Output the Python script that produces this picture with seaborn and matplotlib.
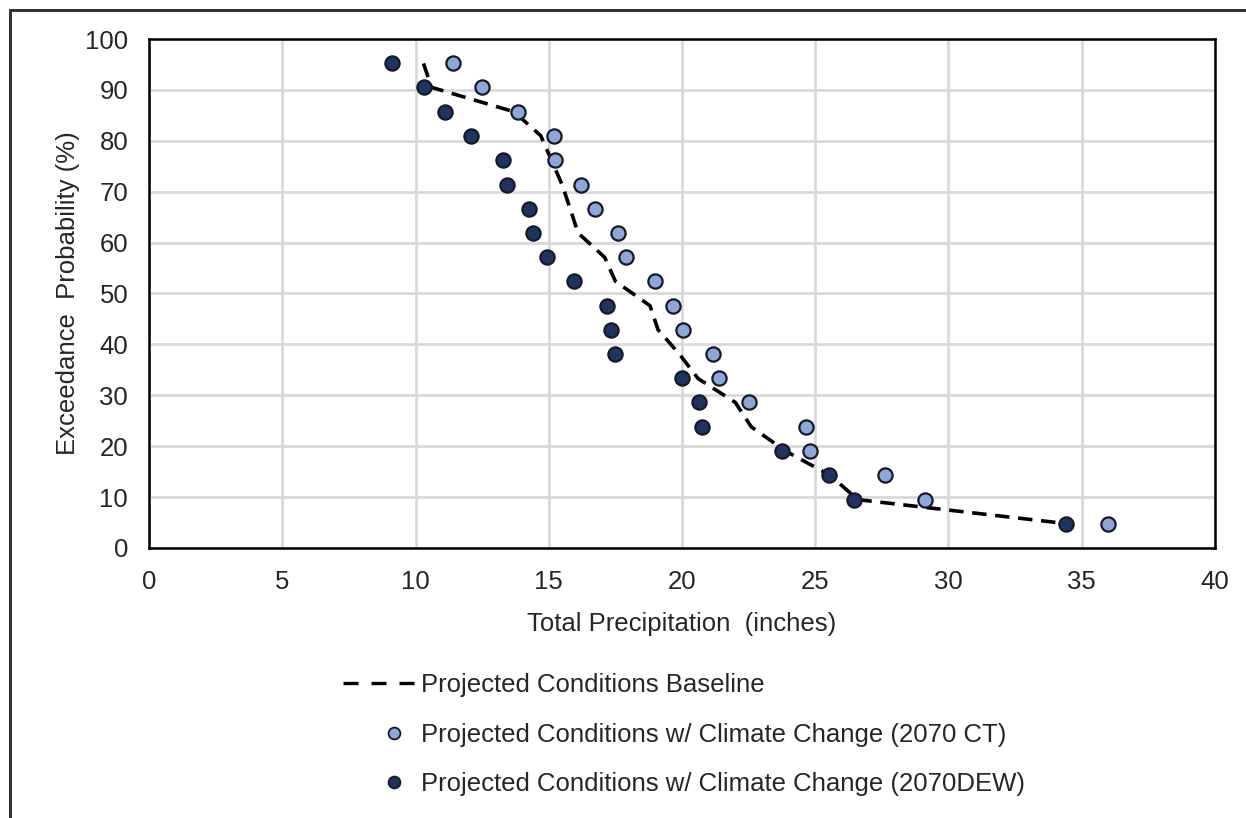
import numpy as np
import pandas as pd
import matplotlib.pyplot as plt
import seaborn as sns
from matplotlib.lines import Line2D
from matplotlib.legend_handler import HandlerLine2D

# exceedance probabilities (%) shared by all series
prob = [95.2, 90.5, 85.7, 81.0, 76.2, 71.4, 66.7, 61.9, 57.1, 52.4,
        47.6, 42.9, 38.1, 33.3, 28.6, 23.8, 19.0, 14.3, 9.5, 4.8]

# total precipitation (inches)
baseline = [10.3, 10.6, 13.7, 14.7, 15.1, 15.5, 15.8, 16.1, 17.1, 17.5,
            18.8, 19.1, 19.9, 20.6, 22.0, 22.6, 23.9, 25.55, 26.6, 34.4]
ct_2070 = [11.4, 12.5, 13.85, 15.2, 15.25, 16.2, 16.75, 17.6, 17.9, 19.0,
           19.65, 20.05, 21.15, 21.4, 22.5, 24.65, 24.8, 27.6, 29.1, 36.0]
dew_2070 = [9.1, 10.3, 11.1, 12.1, 13.3, 13.45, 14.25, 14.4, 14.95, 15.95,
            17.2, 17.35, 17.5, 20.0, 20.65, 20.75, 23.75, 25.5, 26.45, 34.4]

labels = ["Projected Conditions Baseline",
          "Projected Conditions w/ Climate Change (2070 CT)",
          "Projected Conditions w/ Climate Change (2070DEW)"]

df = pd.DataFrame({"prob": prob, "base": baseline, "ct": ct_2070, "dew": dew_2070})


# legend marker sits toward the right of the handle box, like Excel does
# (marker is drawn on the middle of the handle line, so shift that line)
class RightMarker(HandlerLine2D):
    def get_xdata(self, legend, xdescent, ydescent, width, height, fontsize):
        xdata = np.array([-xdescent + 0.44 * width, -xdescent + width])
        return xdata, np.array([-xdescent + 0.72 * width])


sns.set_style("white")
plt.rcParams['font.family'] = ['Liberation Sans', 'DejaVu Sans']

light = "#8fa7d6"
dark = "#1f3560"
edge = "#15192a"
txt = "#262626"
fs = 18.5

fig = plt.figure(figsize=(12.46, 8.18), dpi=100)
ax = fig.add_axes([0.1196, 0.3301, 0.8555, 0.6222])

sns.lineplot(data=df, x="base", y="prob", ax=ax, color="black", lw=2.6,
             sort=False, estimator=None, zorder=2)
ax.lines[0].set_linestyle((0, (4.0, 2.4)))
sns.scatterplot(data=df, x="ct", y="prob", ax=ax, color=light, s=105,
                edgecolor=edge, linewidth=1.6, zorder=3)
sns.scatterplot(data=df, x="dew", y="prob", ax=ax, color=dark, s=105,
                edgecolor=edge, linewidth=1.6, zorder=3)

ax.set_xlim(0, 40)
ax.set_ylim(0, 100)
ax.set_xticks(np.arange(0, 41, 5))
ax.set_yticks(np.arange(0, 101, 10))
ax.grid(True, color="#d9d9d9", lw=2)
ax.set_axisbelow(True)
for s in ax.spines.values():
    s.set_color("black")
    s.set_linewidth(1.8)
ax.tick_params(length=0, labelsize=fs, colors=txt)
ax.tick_params(axis="y", pad=15)
ax.tick_params(axis="x", pad=16)
ax.set_xlabel("Total Precipitation  (inches)", fontsize=fs, color=txt, labelpad=13)
ax.set_ylabel("Exceedance  Probability (%)", fontsize=fs, color=txt, labelpad=4)

handles = [
    Line2D([], [], color="black", lw=2.4, ls=(0, (4.5, 3.9))),
    Line2D([], [], ls="none", marker="o", ms=8.5, mfc=light, mec=edge, mew=1.3),
    Line2D([], [], ls="none", marker="o", ms=8.5, mfc=dark, mec=edge, mew=1.3),
]
fig.legend(handles, labels, loc="upper left", bbox_to_anchor=(0.257, 0.205), frameon=False,
           fontsize=fs, handlelength=2.76, handletextpad=0.25, labelspacing=0.99,
           labelcolor=txt, handler_map={handles[1]: RightMarker(), handles[2]: RightMarker()})

# outer frame (top and left edges)
fig.add_artist(Line2D([10 / 1246, 1], [1 - 10 / 818, 1 - 10 / 818], color="#333333",
                      lw=2.2, transform=fig.transFigure))
fig.add_artist(Line2D([10 / 1246, 10 / 1246], [0, 1 - 10 / 818], color="#333333",
                      lw=2.2, transform=fig.transFigure))

fig.savefig("out.png", dpi=100)
